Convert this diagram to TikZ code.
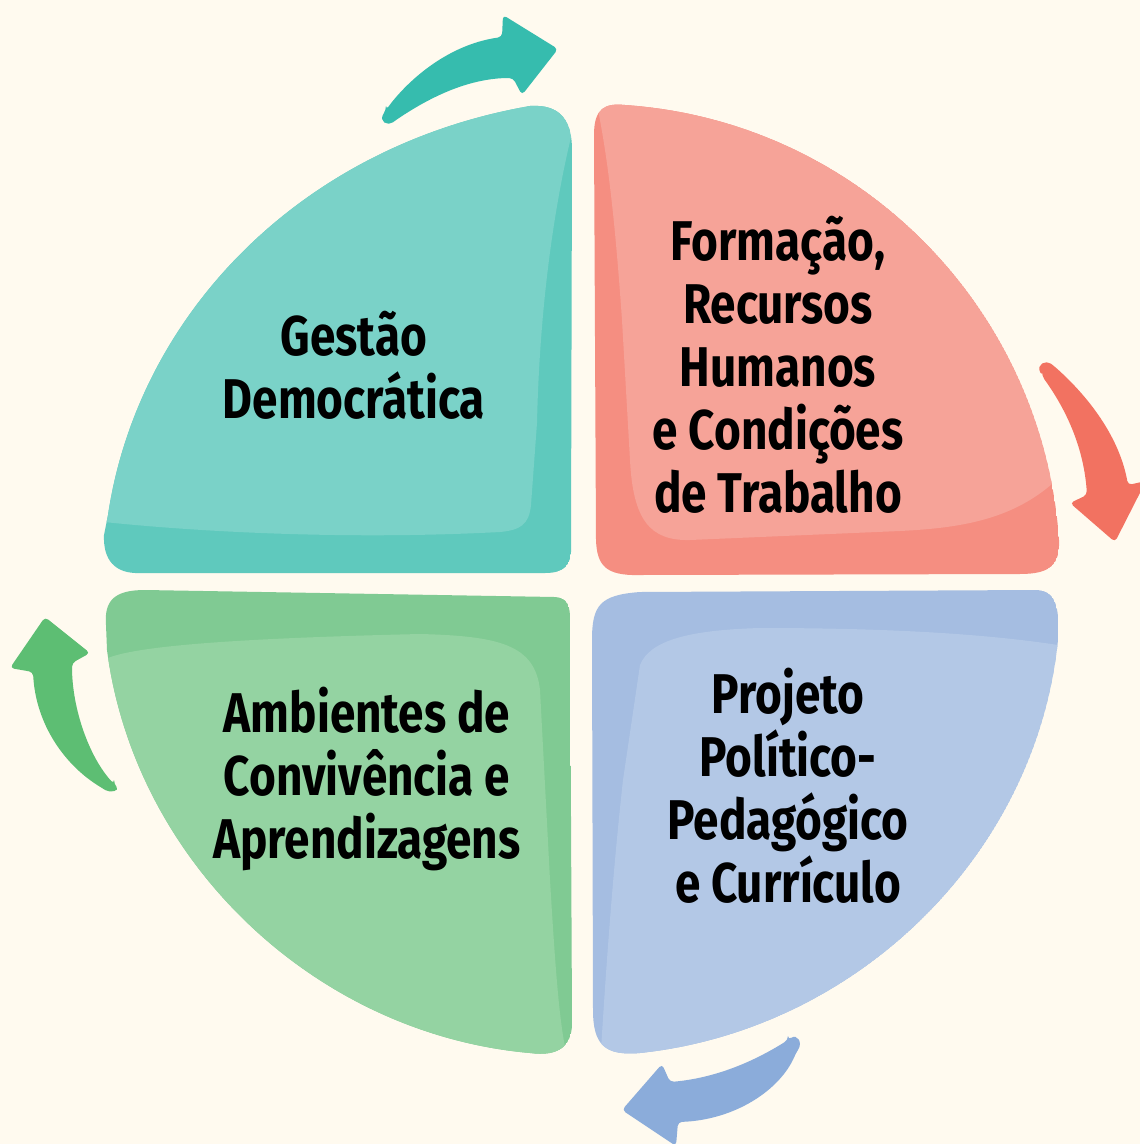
\documentclass[tikz,border=0pt]{standalone}
\usepackage{fontspec}
\newfontfamily\handfont[FakeStretch=0.82]{Fira Sans}

\definecolor{paper}{HTML}{FFFAEF}
\definecolor{teallight}{HTML}{7AD2C8}
\definecolor{tealdark}{HTML}{5FC9BD}
\definecolor{tealarrow}{HTML}{36BCAE}
\definecolor{redlight}{HTML}{F6A398}
\definecolor{reddark}{HTML}{F58E81}
\definecolor{redarrow}{HTML}{F27261}
\definecolor{greenlight}{HTML}{94D3A2}
\definecolor{greendark}{HTML}{80CA93}
\definecolor{greenarrow}{HTML}{5DBE73}
\definecolor{bluelight}{HTML}{B3C8E6}
\definecolor{bluedark}{HTML}{A5BDE1}
\definecolor{bluearrow}{HTML}{8BACDA}

% outlines of the four quarter pieces (x right, y down)
\newcommand\tealoutline{(108,515) .. controls (138,315) and (300,146) .. (530,106)
  .. controls (560,104) and (572,120) .. (572,150) -- (571,545)
  .. controls (572,565) and (565,573) .. (545,573) -- (140,573)
  .. controls (115,574) and (103,560) .. (104,535) -- cycle}
\newcommand\redoutline{(625,105) .. controls (858,121) and (1043,307) .. (1059,540)
  .. controls (1060,565) and (1050,574) .. (1020,574) -- (640,575)
  .. controls (605,576) and (597,565) .. (596,540) -- (594,135)
  .. controls (594,108) and (605,103) .. (625,105) -- cycle}
\newcommand\greenoutline{(106,625) .. controls (104,600) and (115,590) .. (145,590)
  -- (555,597) .. controls (566,598) and (569,603) .. (570,615) -- (572,1020)
  .. controls (573,1045) and (560,1057) .. (530,1053)
  .. controls (316,1034) and (135,863) .. (107,650) -- cycle}
\newcommand\blueoutline{(592,640) .. controls (592,605) and (600,595) .. (640,592)
  -- (1035,590) .. controls (1055,590) and (1060,605) .. (1058,640)
  .. controls (1036,856) and (856,1030) .. (640,1053)
  .. controls (605,1056) and (593,1045) .. (593,1010) -- cycle}

\tikzset{
  % the base anchor of a multi-line label sits on its last line
  quadlabel/.style={font=\handfont\bfseries\fontsize{56}{63}\selectfont,
    align=center, anchor=base, text=black, inner sep=0pt},
  cyclearrow/.style={rounded corners=4pt},
}

\begin{document}
\begin{tikzpicture}[x=1pt,y=-1pt]
\fill[paper] (0,0) rectangle (1140,1144);
\useasboundingbox (0,0) rectangle (1140,1144);

% Gestão Democrática piece
\begin{scope}
  \clip \tealoutline;
  \fill[tealdark] \tealoutline;
  \fill[teallight] (40,40) -- (572,40) -- (572,133)
    .. controls (558,190) and (540,290) .. (537,423) -- (531,505)
    .. controls (529,525) and (520,530) .. (500,532)
    .. controls (350,540) and (200,532) .. (104,522) -- (40,522) -- cycle;
\end{scope}

% Formação piece
\begin{scope}
  \clip \redoutline;
  \fill[reddark] \redoutline;
  \fill[redlight] (560,60) -- (1100,60) -- (1100,470) -- (1052,484)
    .. controls (1010,520) and (960,528) .. (900,531) -- (690,540)
    .. controls (650,541) and (633,520) .. (630,460) -- (622,320)
    .. controls (615,220) and (608,160) .. (598,110) -- (560,100) -- cycle;
\end{scope}

% Ambientes piece
\begin{scope}
  \clip \greenoutline;
  \fill[greendark] \greenoutline;
  \fill[greenlight] (60,700) -- (108,658)
    .. controls (140,645) and (250,638) .. (420,634)
    .. controls (500,636) and (535,645) .. (540,690) -- (550,880)
    .. controls (556,980) and (560,1030) .. (568,1060) -- (60,1100) -- cycle;
\end{scope}

% Projeto piece
\begin{scope}
  \clip \blueoutline;
  \fill[bluedark] \blueoutline;
  \fill[bluelight] (1100,650) -- (1058,645)
    .. controls (980,633) and (880,628) .. (760,628)
    .. controls (690,630) and (650,640) .. (640,665) -- (623,780)
    .. controls (612,880) and (605,980) .. (598,1100) -- (1100,1100) -- cycle;
\end{scope}

% curved arrows turning clockwise round the circle
\fill[tealarrow, cyclearrow] (386,110) .. controls (405,84) and (445,45) .. (502,37)
  -- (503,15) -- (558,49) -- (522,95) -- (513,78)
  .. controls (470,78) and (432,96) .. (396,120)
  .. controls (388,126) and (378,122) .. (386,110) -- cycle;
\fill[redarrow, cyclearrow] (1042,376) .. controls (1036,364) and (1046,360) .. (1054,366)
  .. controls (1092,400) and (1120,440) .. (1128,485)
  -- (1146,481) -- (1115,542) -- (1070,503) -- (1087,495)
  .. controls (1084,450) and (1068,412) .. (1042,376) -- cycle;
\fill[bluearrow, cyclearrow] (788,1040) .. controls (797,1034) and (803,1042) .. (796,1053)
  .. controls (780,1090) and (735,1120) .. (678,1122)
  -- (676,1146) -- (622,1110) -- (662,1064) -- (670,1082)
  .. controls (715,1078) and (753,1062) .. (788,1040) -- cycle;
\fill[greenarrow, cyclearrow] (114,784) .. controls (90,758) and (72,710) .. (72,663)
  -- (90,653) -- (45,617) -- (10,668) -- (33,672)
  .. controls (36,725) and (65,765) .. (102,788)
  .. controls (110,793) and (120,791) .. (114,784) -- cycle;

% labels
\node[quadlabel] (gestao) at (354,418) {Gestão\\Democrática};
\node[quadlabel] (formacao) at (778,512) {Formação,\\Recursos\\Humanos\\e Condições\\de Trabalho};
\node[quadlabel] (ambientes) at (367,858) {Ambientes de\\Convivência e\\Aprendizagens};
\node[quadlabel] (projeto) at (788,902) {Projeto\\Político-\\Pedagógico\\e Currículo};
\end{tikzpicture}
\end{document}
